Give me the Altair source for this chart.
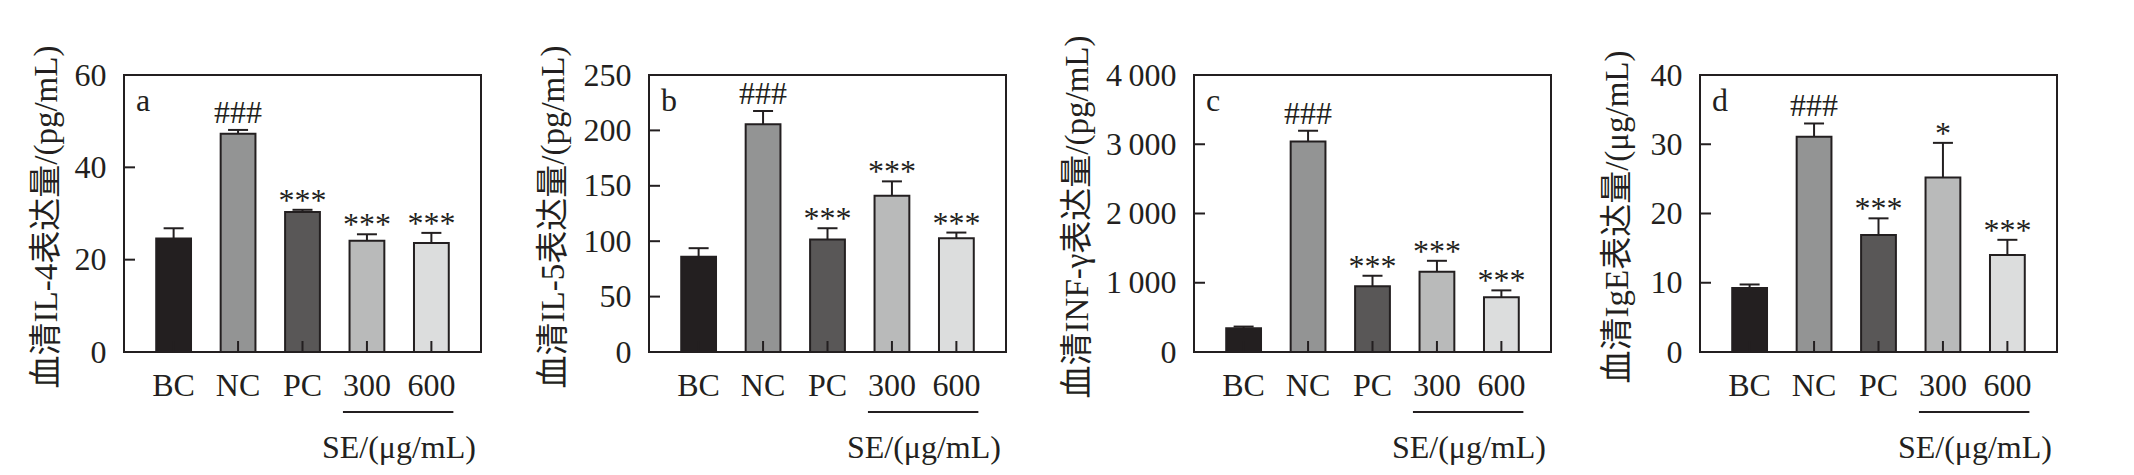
import altair as alt
import pandas as pd

# ---------------- data ----------------
groups = ["BC", "NC", "PC", "300", "600"]
bar_colors = ["#231f20", "#939494", "#595757", "#b9baba", "#dcdddd"]

il4_mean = [24.6, 47.3, 30.3, 24.1, 23.6]
il4_se = [2.2, 0.8, 0.5, 1.4, 2.2]
il5_mean = [86.0, 205.5, 101.5, 141.0, 102.7]
il5_se = [7.7, 12.0, 10.2, 13.0, 5.1]
ifn_mean = [344, 3040, 948, 1158, 790]
ifn_se = [23, 155, 153, 159, 100]
ige_mean = [9.25, 31.1, 16.9, 25.2, 14.0]
ige_se = [0.5, 1.9, 2.4, 5.0, 2.2]

sig_a = ["", "###", "***", "***", "***"]
sig_b = ["", "###", "***", "***", "***"]
sig_c = ["", "###", "***", "***", "***"]
sig_d = ["", "###", "***", "*", "***"]

ticks_a = [0, 20, 40, 60]
ticks_b = [0, 50, 100, 150, 200, 250]
ticks_c = [0, 1000, 2000, 3000, 4000]
ticks_d = [0, 10, 20, 30, 40]

titles = ["血清IL-4表达量/(pg/mL)", "血清IL-5表达量/(pg/mL)",
          "血清INF-γ表达量/(pg/mL)", "血清IgE表达量/(μg/mL)"]
letters = ["a", "b", "c", "d"]
dose_label = "SE/(μg/mL)"

# ---------------- style ----------------
W, H = 357, 277
FONT = "Liberation Serif, Noto Sans CJK SC"
INK = "#231f20"
FS = 32
TFS = 33


def panel(mean, se, sig, letter, title, ticks, title_x, left_ext, label_expr=None):
    df = pd.DataFrame({"group": groups, "mean": mean,
                       "top": [m + s for m, s in zip(mean, se)], "sig": sig})
    xscale = alt.Scale(domain=groups, paddingInner=0.46, paddingOuter=0.5)
    yscale = alt.Scale(domain=[0, ticks[-1]], nice=False, zero=True)
    xaxis = alt.Axis(title=None, labelAngle=0, labelFont=FONT, labelFontSize=FS,
                     labelColor=INK, labelPadding=18, ticks=False, tickSize=0,
                     domain=False, grid=False)
    ykw = dict(values=ticks, title=title, titleFont=FONT, titleFontSize=TFS,
               titleFontWeight="normal", titleColor=INK, titleX=title_x,
               titleY=H / 2 + 3, titleAngle=270, titleAlign="center",
               titleBaseline="middle", labelFont=FONT, labelFontSize=FS,
               labelColor=INK, labelPadding=18, ticks=False, tickSize=0,
               domain=False, grid=False, labelFlush=False, labelOverlap=False)
    if label_expr:
        ykw["labelExpr"] = label_expr
    yaxis = alt.Axis(**ykw)

    X = lambda f: alt.X(f, sort=groups, scale=xscale, axis=xaxis)
    Y = lambda f: alt.Y(f, scale=yscale, axis=yaxis)

    base = alt.Chart(df)
    bars = base.mark_bar(stroke=INK, strokeWidth=2).encode(
        x=X("group:N"), y=Y("mean:Q"),
        color=alt.Color("group:N", scale=alt.Scale(domain=groups, range=bar_colors), legend=None),
    )
    stems = base.mark_rule(color=INK, strokeWidth=2).encode(
        x=X("group:N"), y=Y("mean:Q"), y2="top:Q")
    caps = base.mark_tick(orient="horizontal", size=20, thickness=2, color=INK, opacity=1).encode(
        x=X("group:N"), y=Y("top:Q"))
    xticks = base.mark_rule(color=INK, strokeWidth=2).encode(
        x=X("group:N"), y=alt.value(H), y2=alt.value(H - 11))
    yticks = alt.Chart(pd.DataFrame({"v": ticks})).mark_rule(color=INK, strokeWidth=2).encode(
        x=alt.value(0), x2=alt.value(11), y=Y("v:Q"))
    hashes = base.transform_filter(alt.datum.sig == "###").mark_text(
        font=FONT, fontSize=FS, color=INK, baseline="alphabetic", dy=-7).encode(
        x=X("group:N"), y=Y("top:Q"), text="sig:N")
    stars = base.transform_filter((alt.datum.sig != "###") & (alt.datum.sig != "")).mark_text(
        font=FONT, fontSize=FS, color=INK, baseline="alphabetic", dy=1).encode(
        x=X("group:N"), y=Y("top:Q"), text="sig:N")
    letter_t = alt.Chart(pd.DataFrame({"t": [letter]})).mark_text(
        font=FONT, fontSize=FS, color=INK, align="left", baseline="alphabetic").encode(
        x=alt.value(12), y=alt.value(36), text="t:N")
    underline = alt.Chart(pd.DataFrame({"a": [groups[3]], "b": [groups[4]]})).mark_rule(
        color=INK, strokeWidth=2, xOffset=-24, x2Offset=22).encode(
        x=X("a:N"), x2="b:N", y=alt.value(H + 60))
    dose = alt.Chart(pd.DataFrame({"g": [groups[3]], "t": [dose_label]})).mark_text(
        font=FONT, fontSize=FS, color=INK, align="center", baseline="middle", xOffset=32).encode(
        x=X("g:N"), y=alt.value(H + 96), text="t:N")
    # invisible extent guide: fixes each panel's layout bounds
    extent = alt.Chart(pd.DataFrame({"t": [0]})).mark_rule(strokeWidth=0, opacity=0).encode(
        x=alt.value(-left_ext), x2=alt.value(W + 5), y=alt.value(-60))
    layers = [bars, stems, caps, xticks, yticks, hashes, stars, letter_t, underline, dose, extent]
    return alt.layer(*layers).properties(width=W, height=H)


thin = "replace(format(datum.value, ','), ',', '\u2009')"
pa = panel(il4_mean, il4_se, sig_a, letters[0], titles[0], ticks_a, -78, 110)
pb = panel(il5_mean, il5_se, sig_b, letters[1], titles[1], ticks_b, -96, 120)
pc = panel(ifn_mean, ifn_se, sig_c, letters[2], titles[2], ticks_c, -117, 140, thin)
pd_ = panel(ige_mean, ige_se, sig_d, letters[3], titles[3], ticks_d, -83, 101)

chart = alt.hconcat(pa, pb, pc, pd_, spacing=41).properties(
    padding={"left": 5, "top": 6, "right": 5, "bottom": 5},
    background="white",
).configure(font=FONT).configure_view(stroke=INK, strokeWidth=2)

chart.save("out.html", embed_options={"renderer": "svg", "actions": False})
